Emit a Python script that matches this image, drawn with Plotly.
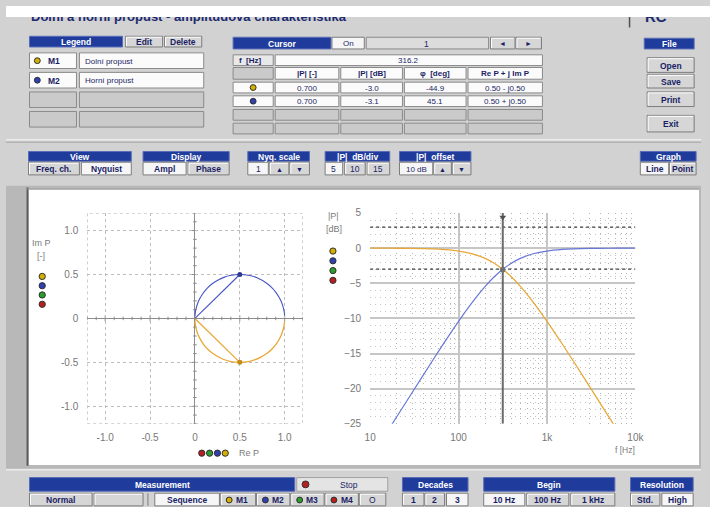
import plotly.graph_objects as go

W, H = 710, 507

# ---------------- data ----------------
# Bode magnitude (frequency in Hz, magnitude in dB)
freq_hz = [10, 15, 20, 30, 50, 70, 100, 150, 200, 250, 316.2, 400, 500, 700,
           1000, 1500, 2000, 3000, 5000, 7000, 10000]
lowpass_db = [-0.004, -0.01, -0.017, -0.039, -0.107, -0.208, -0.414, -0.881, -1.461,
              -2.109, -3.01, -4.15, -5.44, -7.71, -10.41, -13.71, -16.13, -19.59,
              -24.0, -26.9, -30.0]
highpass_db = [-30.0, -26.48, -23.98, -20.50, -16.13, -13.31, -10.41, -7.36, -5.44,
               -4.15, -3.01, -2.11, -1.46, -0.806, -0.414, -0.189, -0.107, -0.048,
               -0.017, -0.009, -0.004]

# Nyquist locus (Re P, Im P)
nyq_low_re = [0.999, 0.990, 0.962, 0.917, 0.862, 0.800, 0.735, 0.671, 0.610, 0.500, 0.390,
              0.308, 0.200, 0.138, 0.100, 0.059, 0.038, 0.020, 0.010, 0.004, 0.002, 0.001]
nyq_low_im = [-0.032, -0.099, -0.192, -0.275, -0.345, -0.400, -0.441, -0.470, -0.488, -0.500,
              -0.488, -0.462, -0.400, -0.345, -0.300, -0.235, -0.192, -0.140, -0.099, -0.067,
              -0.050, -0.032]
nyq_high_re = [0.001, 0.010, 0.038, 0.083, 0.138, 0.200, 0.265, 0.329, 0.390, 0.500, 0.610,
               0.692, 0.800, 0.862, 0.900, 0.941, 0.962, 0.980, 0.990, 0.996, 0.998, 0.999]
nyq_high_im = [0.032, 0.099, 0.192, 0.275, 0.345, 0.400, 0.441, 0.470, 0.488, 0.500, 0.488,
               0.462, 0.400, 0.345, 0.300, 0.235, 0.192, 0.140, 0.099, 0.067, 0.050, 0.032]

# cursor readout
cursor_freq = 316.2
cursor_abs = ["0.700", "0.700"]
cursor_db = [-3.0, -3.1]
cursor_phase = ["-44.9", "45.1"]
cursor_re = [0.50, 0.50]
cursor_im = [-0.50, 0.50]
cursor_cplx = ["0.50 - j0.50", "0.50 + j0.50"]

nyq_ticks = [-1.0, -0.5, 0.0, 0.5, 1.0]
nyq_ticktext = ["-1.0", "-0.5", "0", "0.5", "1.0"]
bode_fticks = [10, 100, 1000, 10000]
bode_fticktext = ["10", "100", "1k", "10k"]

series_names = ["Dolní propust", "Horní propust"]
marker_ids = ["M1", "M2"]

# ---------------- colours ----------------
C_LOW = "#e8a838"
C_HIGH = "#4454c4"
C_HIGH_B = "#6878d8"
DOT_COLS = ["#d2b000", "#3040b0", "#2c9c2c", "#b42020"]
BG = "#d2d2d2"
HDR = "#1f3c9c"
NAVY = "#1a1e66"
FONT = "Liberation Sans"

shapes, annots = [], []


def px(x):
    return x / W


def py(y):
    return 1 - y / H


def rect(x0, y0, x1, y1, fill, line=None, lw=1, layer="below"):
    shapes.append(dict(type="rect", xref="paper", yref="paper",
                       x0=px(x0), x1=px(x1), y0=py(y1), y1=py(y0),
                       fillcolor=fill, layer=layer,
                       line=dict(color=line if line else fill, width=lw if line else 0)))


def hline(x0, x1, y, color, lw=1, dash="solid", layer="below"):
    shapes.append(dict(type="line", xref="paper", yref="paper", x0=px(x0), x1=px(x1),
                       y0=py(y), y1=py(y), layer=layer,
                       line=dict(color=color, width=lw, dash=dash)))


def vline(x, y0, y1, color, lw=1, layer="below"):
    shapes.append(dict(type="line", xref="paper", yref="paper", x0=px(x), x1=px(x),
                       y0=py(y0), y1=py(y1), layer=layer, line=dict(color=color, width=lw)))


def dot(x, y, color, r=3.5, layer="above"):
    shapes.append(dict(type="circle", xref="paper", yref="paper",
                       x0=px(x - r), x1=px(x + r), y0=py(y + r), y1=py(y - r),
                       fillcolor=color, layer=layer, line=dict(color="#303030", width=1)))


def text(x, y, s, size=8.5, color=NAVY, bold=False, anchor="center", family=FONT):
    annots.append(dict(x=px(x), y=py(y), xref="paper", yref="paper",
                       text=f"<b>{s}</b>" if bold else s, showarrow=False,
                       xanchor=anchor, yanchor="middle",
                       font=dict(size=size, color=color, family=family)))


def header(x0, y0, x1, y1, label):
    rect(x0, y0, x1, y1, HDR, "#5a6cb8")
    text((x0 + x1) / 2, (y0 + y1) / 2 + 0.5, label, size=8.5, color="white", bold=True)


def button(x0, y0, x1, y1, label="", selected=False, color=NAVY, bold=True, size=8.5):
    rect(x0, y0, x1, y1, "#f6f6f6" if selected else "#d6d6d6", "#7c7c7c")
    if not selected:
        hline(x0 + 1, x1 - 1, y0 + 1, "#ffffff")
        vline(x0 + 1, y0 + 1, y1 - 1, "#ffffff")
    if label:
        text((x0 + x1) / 2, (y0 + y1) / 2 + 0.5, label, size=size, color=color, bold=bold)


def cell(x0, y0, x1, y1, label="", fill="#fbfbfb", anchor="center", color=NAVY,
         bold=False, size=8):
    rect(x0, y0, x1, y1, fill, "#8a8a8a")
    if label:
        if anchor == "center":
            text((x0 + x1) / 2, (y0 + y1) / 2 + 0.5, label, size=size, color=color, bold=bold)
        else:
            text(x0 + 4, (y0 + y1) / 2 + 0.5, label, size=size, color=color, bold=bold,
                 anchor="left")


# ---------------- window chrome ----------------
text(24, 11, "Dolní a horní propust - amplitudová charakteristika", size=13,
     color="#1c2a6e", bold=True, anchor="left")
vline(637, 9, 22, "#505050", lw=1.5)
text(651, 11, "RC", size=15, color="#1c2a6e", bold=True, anchor="left")

# Legend panel
header(24, 31, 119, 42, "Legend")
button(122, 31, 160, 42, "Edit")
button(162, 31, 200, 42, "Delete")
leg_rows = [(48, 64), (68, 84), (88, 104), (108, 124)]
for i, (a, b) in enumerate(leg_rows):
    if i < len(series_names):
        cell(24, a, 72, b)
        dot(32, (a + b) / 2, DOT_COLS[i], r=3)
        text(41, (a + b) / 2 + 0.5, marker_ids[i], size=8.5, bold=True, anchor="left")
        cell(75, a, 202, b, series_names[i], anchor="left", size=8)
    else:
        cell(24, a, 72, b, fill="#cacaca")
        cell(75, a, 202, b, fill="#cacaca")

# Cursor panel
header(232, 32, 332, 44, "Cursor")
button(333, 32, 366, 44, "On", selected=True, bold=False, size=8)
rect(368, 32, 493, 44, "#dcdcdc", "#8a8a8a")
text(430, 38.5, "1", size=8.5, color=NAVY)
button(495, 32, 520, 44, "◄", size=7)
button(521, 32, 547, 44, "►", size=7)

cols = [(232, 273), (275, 340), (342, 405), (407, 470), (472, 548)]
cell(232, 50, 273, 61, "f  [Hz]", fill="#e8e8e8", bold=True, anchor="left", size=8)
cell(275, 50, 548, 61, f"{cursor_freq:.1f}", size=8)
heads = ["", "|P| [-]", "|P| [dB]", "φ  [deg]", "Re P + j Im P"]
for (a, b), h in zip(cols, heads):
    cell(a, 63, b, 75, h, fill="#cacaca" if not h else "#fbfbfb", bold=True, size=8)
data_rows = [(78, 89), (92, 103)]
for i, (a, b) in enumerate(data_rows):
    cell(cols[0][0], a, cols[0][1], b)
    dot((cols[0][0] + cols[0][1]) / 2, (a + b) / 2, DOT_COLS[i], r=3)
    vals = [cursor_abs[i], f"{cursor_db[i]:.1f}", cursor_phase[i], cursor_cplx[i]]
    for (c0, c1), v in zip(cols[1:], vals):
        cell(c0, a, c1, b, v, size=8)
for a, b in [(106, 117), (120, 131)]:
    for c0, c1 in cols:
        cell(c0, a, c1, b, fill="#cacaca")

# File panel
header(652, 33, 703, 44, "File")
button(655, 53, 703, 68, "Open")
button(655, 70, 703, 84, "Save")
button(655, 88, 703, 103, "Print")
button(655, 112, 703, 129, "Exit")

# divider
hline(0, 710, 137, "#ececec", lw=1.5)
hline(0, 710, 139.5, "#a4a4a4", lw=1)

# Toolbar
header(23, 149, 128, 159, "View")
button(23, 160, 75, 173, "Freq. ch.")
button(77, 160, 128, 173, "Nyquist", selected=True)
header(140, 149, 228, 159, "Display")
button(140, 160, 184, 173, "Ampl", selected=True)
button(186, 160, 228, 173, "Phase")
header(247, 149, 310, 159, "Nyq. scale")
button(247, 160, 268, 173, "1", selected=True, bold=False)
button(269, 160, 289, 173, "▲", size=7)
button(290, 160, 310, 173, "▼", size=7)
header(326, 149, 392, 159, "|P|  dB/div")
button(326, 160, 344, 173, "5", selected=True, bold=False)
button(346, 160, 367, 173, "10", bold=False)
button(369, 160, 392, 173, "15", bold=False)
header(402, 149, 475, 159, "|P|  offset")
button(402, 160, 436, 173, "10 dB", selected=True, bold=False, size=8)
button(437, 160, 455, 173, "▲", size=7)
button(456, 160, 475, 173, "▼", size=7)
header(648, 149, 705, 159, "Graph")
button(648, 160, 677, 173, "Line", selected=True)
button(678, 160, 705, 173, "Point")

# Graph panel frame
rect(0, 184, 710, 474, "#b8b8b8")
rect(23, 188, 708, 470, "#ffffff")
vline(22, 186, 471, "#5a5a5a", lw=2)
hline(21, 708, 187.5, "#9a9a9a", lw=1)
hline(0, 710, 475, "#ececec", lw=1.5)

# Bottom bar
header(24, 483, 295, 497, "Measurement")
rect(297, 483, 390, 497, "#e4e4e4", "#a0a0a0")
dot(306, 490, "#b42020", r=3.5, layer="below")
text(350, 490.5, "Stop", size=8.5, color=NAVY)
header(405, 483, 472, 497, "Decades")
header(488, 483, 622, 497, "Begin")
header(638, 483, 702, 497, "Resolution")
button(24, 499, 88, 512, "Normal")
button(90, 499, 140, 512, "")
vline(145, 499, 512, "#7c7c7c")
button(152, 499, 218, 512, "Sequence", selected=True)
for k, (a, b) in enumerate([(219, 255), (256, 290), (291, 325), (326, 360)]):
    button(a, 499, b, 512, "")
    dot(a + 9, 506, DOT_COLS[k], r=3, layer="below")
    text(a + 22, 506, f"M{k + 1}", size=8.5, bold=True)
button(361, 499, 388, 512, "O", bold=False)
for k, (a, b) in enumerate([(405, 427), (428, 448), (450, 472)]):
    button(a, 499, b, 512, str(k + 1), selected=(k == 2))
for lab, (a, b) in zip(["10 Hz", "100 Hz", "1 kHz"], [(488, 530), (532, 575), (577, 622)]):
    button(a, 499, b, 512, lab, selected=(lab == "10 Hz"))
button(638, 499, 668, 512, "Std.")
button(670, 499, 702, 512, "High", selected=True)

# ---------------- plot decorations ----------------
AX_GREY = "#7a7a7a"
text(36, 243, "Im P", size=9, color=AX_GREY)
text(36, 256, "[-]", size=9, color=AX_GREY)
for k, c in enumerate(DOT_COLS):
    dot(37, 277 + 9.5 * k, c, r=3.2)
for k, c in enumerate(reversed(DOT_COLS)):
    dot(200 + 8 * k, 458, c, r=3.2)
text(236, 458, "Re P", size=9, color=AX_GREY, anchor="left")

text(335, 215, "|P|", size=9, color=AX_GREY)
text(335, 228, "[dB]", size=9, color=AX_GREY)
for k, c in enumerate(DOT_COLS):
    dot(334, 251 + 10 * k, c, r=3.2)
text(632, 455, "f [Hz]", size=8.5, color=AX_GREY)

# Nyquist box (dotted frame) and tick marks along the zero axes
shapes.append(dict(type="rect", xref="x", yref="y", x0=-1.2, x1=1.2, y0=-1.2, y1=1.2,
                   line=dict(color="#a8a8a8", width=1, dash="dot"), layer="below"))
for i in range(-12, 13):
    v = i / 10
    ln = 0.035 if i % 5 == 0 else 0.02
    shapes.append(dict(type="line", xref="x", yref="y", x0=v, x1=v, y0=-ln, y1=ln,
                       line=dict(color="#8c8c8c", width=1), layer="below"))
    shapes.append(dict(type="line", xref="x", yref="y", x0=-ln, x1=ln, y0=v, y1=v,
                       line=dict(color="#8c8c8c", width=1), layer="below"))

# Bode: +-3 dB reference lines and cursor line
for lvl in (3, -3):
    shapes.append(dict(type="line", xref="x2", yref="y2", x0=10, x1=10000, y0=lvl, y1=lvl,
                       line=dict(color="#3a3a3a", width=1.2, dash="dot"), layer="between"))
shapes.append(dict(type="line", xref="x2", yref="y2", x0=cursor_freq, x1=cursor_freq,
                   y0=-25, y1=5, line=dict(color="#6a6a6a", width=2), layer="between"))

# white strip along the top edge of the window (covers the rest of the row)
rect(0, 0, 710, 11, "#ffffff", layer="above")

# ---------------- traces ----------------
fig = go.Figure()

# Nyquist loci
fig.add_trace(go.Scatter(x=nyq_low_re, y=nyq_low_im, mode="lines", line_shape="spline",
                         line=dict(color=C_LOW, width=1.3), xaxis="x", yaxis="y"))
fig.add_trace(go.Scatter(x=nyq_high_re, y=nyq_high_im, mode="lines", line_shape="spline",
                         line=dict(color=C_HIGH, width=1.1), xaxis="x", yaxis="y"))
# cursor vectors
fig.add_trace(go.Scatter(x=[0, cursor_re[0]], y=[0, cursor_im[0]], mode="lines",
                         line=dict(color=C_LOW, width=1.3), xaxis="x", yaxis="y"))
fig.add_trace(go.Scatter(x=[0, cursor_re[1]], y=[0, cursor_im[1]], mode="lines",
                         line=dict(color=C_HIGH, width=1.1), xaxis="x", yaxis="y"))
fig.add_trace(go.Scatter(x=cursor_re, y=cursor_im, mode="markers",
                         marker=dict(color=["#c88a10", "#303890"], size=5),
                         xaxis="x", yaxis="y"))

# Bode magnitude
fig.add_trace(go.Scatter(x=freq_hz, y=lowpass_db, mode="lines", line_shape="spline",
                         line=dict(color=C_LOW, width=1.3), xaxis="x2", yaxis="y2"))
fig.add_trace(go.Scatter(x=freq_hz, y=highpass_db, mode="lines", line_shape="spline",
                         line=dict(color=C_HIGH_B, width=1.2), xaxis="x2", yaxis="y2"))
fig.add_trace(go.Scatter(x=[cursor_freq, cursor_freq], y=cursor_db, mode="markers",
                         marker=dict(color="#707070", size=5), xaxis="x2", yaxis="y2"))
fig.add_trace(go.Scatter(x=[cursor_freq], y=[4.4], mode="markers",
                         marker=dict(symbol="triangle-down", color="#505050", size=6),
                         xaxis="x2", yaxis="y2"))

tickfont = dict(size=10, color="#777777", family=FONT)
fig.update_layout(
    width=W, height=H, margin=dict(l=0, r=0, t=0, b=0),
    paper_bgcolor=BG, plot_bgcolor="rgba(0,0,0,0)", showlegend=False,
    font=dict(family=FONT),
    shapes=shapes, annotations=annots,
    xaxis=dict(domain=[px(83), px(303)], range=[-1.2, 1.2], anchor="y",
               tickvals=nyq_ticks, ticktext=nyq_ticktext, tickfont=tickfont,
               showgrid=True, gridcolor="#bdbdbd", griddash="dot", gridwidth=1,
               zeroline=True, zerolinecolor="#8c8c8c", zerolinewidth=1,
               showline=False, ticks="", ticklabelstandoff=6, fixedrange=True),
    yaxis=dict(domain=[py(428), py(212)], range=[-1.2, 1.2], anchor="x",
               tickvals=nyq_ticks, ticktext=nyq_ticktext, tickfont=tickfont,
               showgrid=True, gridcolor="#bdbdbd", griddash="dot", gridwidth=1,
               zeroline=True, zerolinecolor="#8c8c8c", zerolinewidth=1,
               showline=False, ticks="", ticklabelstandoff=8, fixedrange=True),
    xaxis2=dict(domain=[px(372), px(643)], type="log", range=[1, 4], anchor="y2",
                tickvals=bode_fticks, ticktext=bode_fticktext, tickfont=tickfont,
                showgrid=True, gridcolor="#c6c6c6", gridwidth=2,
                minor=dict(dtick="D1", showgrid=True, gridcolor="#b4b4b4",
                           griddash="1px,4px", gridwidth=1),
                zeroline=False, showline=False, ticks="", ticklabelstandoff=6,
                fixedrange=True),
    yaxis2=dict(domain=[py(428), py(212)], range=[-25, 5], anchor="x2", dtick=5,
                tickfont=tickfont, showgrid=True, gridcolor="#c6c6c6", gridwidth=2,
                minor=dict(dtick=1, showgrid=True, gridcolor="#c4c4c4",
                           griddash="1px,4px", gridwidth=1),
                zeroline=False, showline=False, ticks="", ticklabelstandoff=8,
                fixedrange=True),
)

# white strip across the top edge, drawn over the title row
fig.add_annotation(x=0, y=1, xref="paper", yref="paper", xanchor="left", yanchor="top",
                   text=" ", showarrow=False, bgcolor="#ffffff", width=W + 20, height=11,
                   borderpad=0, borderwidth=0)

fig.write_html("out.html")
